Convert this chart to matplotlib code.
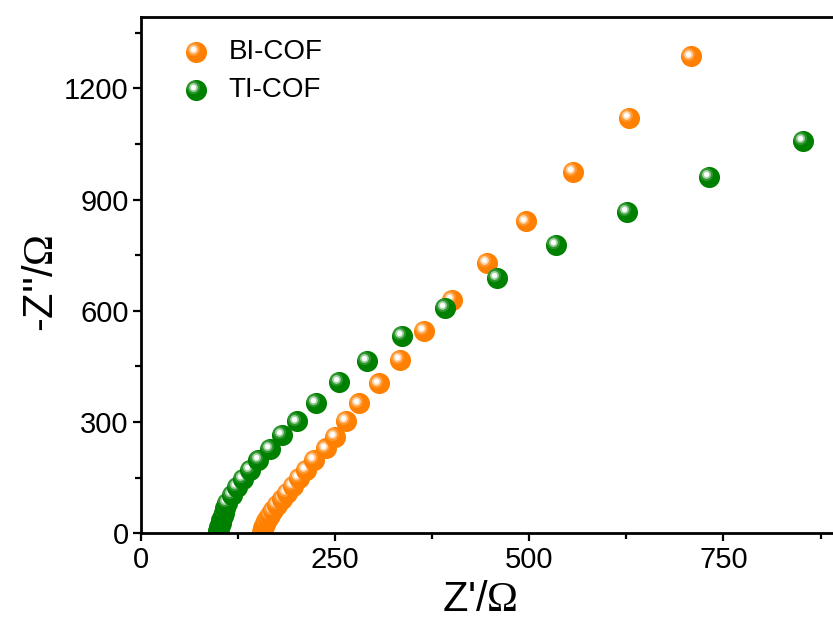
import numpy as np
import matplotlib
matplotlib.use('Agg')
import matplotlib.pyplot as plt
import matplotlib.transforms as mtransforms
from matplotlib.colors import to_rgb

# 字体设置：正文用 Arial 风格，Ω 用衬线体
matplotlib.rcParams['font.family'] = ['Liberation Sans', 'DejaVu Sans']
matplotlib.rcParams['mathtext.fontset'] = 'custom'
matplotlib.rcParams['mathtext.rm'] = 'Liberation Serif'

# Nyquist 数据 (Z' / -Z'')，按高频 -> 低频排列
bi_x = [156, 156.5, 157, 157.5, 158.5, 159.5, 161, 163, 166, 170,
        175, 182, 188, 196, 203, 212, 223, 238, 250, 264,
        281, 306, 333, 364, 400, 445, 496, 556, 628, 708]
bi_y = [3, 6, 10, 14, 19, 25, 32, 40, 50, 62,
        76, 92, 108, 128, 149, 170, 197, 229, 261, 304,
        350, 404, 467, 546, 629, 729, 841, 974, 1121, 1286]

ti_x = [99, 99.5, 100, 100.5, 101.5, 102.5, 103.5, 105, 106.5, 108.5,
        111, 117, 123.5, 131, 140, 151, 166, 181, 201, 225,
        255, 291, 336, 391, 458, 534, 626, 731, 852]
ti_y = [3, 7, 11, 16, 22, 29, 37, 46, 56, 68,
        82, 103, 125, 146, 171, 197, 227, 265, 302, 351,
        408, 464, 532, 607, 688, 777, 867, 961, 1057]

labels = ['BI-COF', 'TI-COF']
colors = ['#FF8000', '#008000']

x_ticks = [0, 250, 500, 750]
y_ticks = [0, 300, 600, 900, 1200]


def lighten(c, f):
    r, g, b = to_rgb(c)
    return (r + (1 - r) * f, g + (1 - g) * f, b + (1 - b) * f)


def sphere(ax, x, y, color, z, trans=None, clip=True):
    """画一个带高光的球形点"""
    if trans is None:
        trans = ax.transData
    hl = mtransforms.offset_copy(trans, fig=ax.figure, x=-2.0, y=2.0, units='points')
    ax.scatter([x], [y], s=230, color=color, lw=0, zorder=z, transform=trans, clip_on=clip)
    ax.scatter([x], [y], s=90, color=lighten(color, 0.3), alpha=0.6, lw=0,
               zorder=z + 0.001, transform=hl, clip_on=clip)
    ax.scatter([x], [y], s=40, color=lighten(color, 0.65), lw=0,
               zorder=z + 0.002, transform=hl, clip_on=clip)
    ax.scatter([x], [y], s=14, color='white', lw=0,
               zorder=z + 0.003, transform=hl, clip_on=clip)


fig = plt.figure(figsize=(8.33, 6.21), dpi=100)
ax = fig.add_axes([0.1693, 0.1412, 0.839, 0.8314])

z = 2.0
for xs, ys, c in [(bi_x, bi_y, colors[0]), (ti_x, ti_y, colors[1])]:
    for x, y in zip(xs, ys):
        sphere(ax, x, y, c, z)
        z += 0.01

ax.set_xlim(0, 900)
ax.set_ylim(0, 1392)
ax.set_xticks(x_ticks)
ax.set_yticks(y_ticks)
ax.set_xticks([125, 375, 625, 875], minor=True)
ax.set_yticks([150, 450, 750, 1050, 1350], minor=True)

for s in ['left', 'bottom', 'top']:
    ax.spines[s].set_linewidth(2.0)
ax.spines['right'].set_visible(False)

ax.tick_params(which='major', direction='out', length=6, width=1.6, labelsize=21, pad=3)
ax.tick_params(which='minor', direction='out', length=4, width=1.6)
ax.tick_params(top=False, right=False, which='both')

ax.set_xlabel(r"Z'/$\mathrm{\Omega}$", fontsize=30)
ax.set_ylabel(r"-Z''/$\mathrm{\Omega}$", fontsize=30)
ax.xaxis.set_label_coords(0.485, -0.09)
ax.yaxis.set_label_coords(-0.113, 0.484)

# 图例（手动绘制球形标记）
leg_y = [0.933, 0.859]
for i in range(2):
    sphere(ax, 0.0787, leg_y[i], colors[i], 10 + i, trans=ax.transAxes, clip=False)
    ax.text(0.125, leg_y[i], labels[i], transform=ax.transAxes, fontsize=20,
            va='center', ha='left')

plt.savefig('out.png', dpi=100)
